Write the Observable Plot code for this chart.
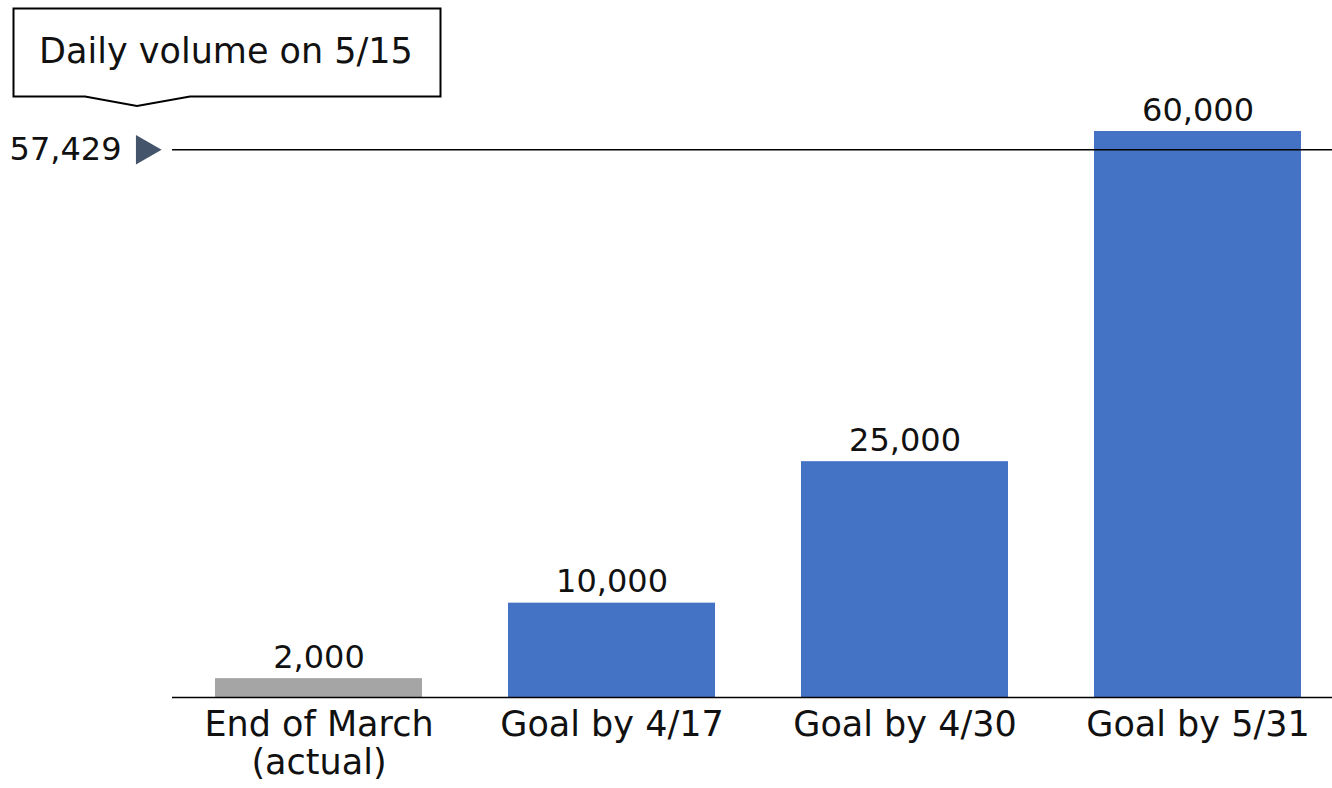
<!DOCTYPE html>
<html>
<head>
<meta charset="utf-8">
<script src="https://cdn.jsdelivr.net/npm/d3@7"></script>
<script src="https://cdn.jsdelivr.net/npm/@observablehq/plot@0.6"></script>
<style>
  html, body { margin: 0; padding: 0; background: #fff; overflow: hidden; }
  #wrap { position: relative; width: 1332px; height: 788px; font-family: "DejaVu Sans", sans-serif; }
  #callout { position: absolute; left: 0; top: 0; }
</style>
</head>
<body>
<div id="wrap">
  <div id="chart"></div>
  <svg id="callout" width="460" height="120">
    <path d="M13.5,8.5 H440.5 V96.5 H190 L137,106 L85,96.5 H13.5 Z" fill="#fff" stroke="#000" stroke-width="2"/>
    <text x="226" y="53" text-anchor="middle" dominant-baseline="middle" font-size="35" font-family="DejaVu Sans, sans-serif" fill="#111">Daily volume on 5/15</text>
  </svg>
</div>
<script>
const categories = ["End of March\n(actual)", "Goal by 4/17", "Goal by 4/30", "Goal by 5/31"];
const values = [2000, 10000, 25000, 60000];
const kinds = ["actual", "goal", "goal", "goal"];
const referenceValue = 57429;
const referenceLabel = "57,429";

const data = categories.map((c, i) => ({category: c, value: values[i], kind: kinds[i]}));
const fmt = d3.format(",");

const chart = Plot.plot({
  width: 1332,
  height: 788,
  marginLeft: 172,
  marginRight: 0,
  marginTop: 100,
  marginBottom: 91,
  style: {fontFamily: "DejaVu Sans, sans-serif", background: "#fff", color: "#111"},
  x: {domain: categories, range: [172, 1344], paddingInner: 0.293, paddingOuter: 0.1465, label: null},
  y: {domain: [0, 60000], range: [697, 131], axis: null},
  color: {domain: ["actual", "goal"], range: ["#A5A5A5", "#4472C4"]},
  marks: [
    Plot.barY(data, {x: "category", y: "value", fill: "kind"}),
    Plot.ruleY([0], {stroke: "#000", strokeWidth: 1.5}),
    Plot.ruleY([referenceValue], {stroke: "#000", strokeWidth: 1.5, dy: -6}),
    Plot.text(data, {x: "category", y: "value", text: d => fmt(d.value), lineAnchor: "bottom", dy: -11, fontSize: 32, fill: "#111"}),
    Plot.axisX({tickSize: 0, tickPadding: 12, fontSize: 35, lineHeight: 1.08, lineAnchor: "top", fill: "#111", label: null}),
    Plot.text([referenceValue], {y: d => d, frameAnchor: "left", text: () => referenceLabel, textAnchor: "end", dx: -51, dy: -6, fontSize: 32, fill: "#111"}),
    Plot.dot([referenceValue], {y: d => d, frameAnchor: "left", symbol: "triangle", rotate: 90, r: 11, dx: -28, dy: -6, fill: "#44546A", stroke: "none"})
  ]
});
document.getElementById("chart").appendChild(chart);
</script>
</body>
</html>
